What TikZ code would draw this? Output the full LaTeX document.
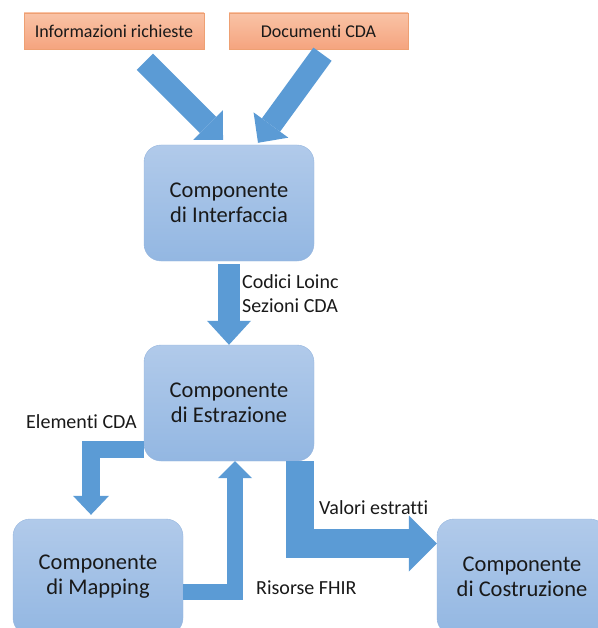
\documentclass[tikz,border=0pt]{standalone}
\usepackage{fontspec}
\setmainfont{Carlito}[Ligatures=CommonOff]
\usetikzlibrary{arrows.meta}
\definecolor{boxtop}{RGB}{177,202,234}
\definecolor{boxbot}{RGB}{147,183,226}
\definecolor{boxline}{RGB}{150,182,222}
\definecolor{srctop}{RGB}{249,195,166}
\definecolor{srcbot}{RGB}{245,164,127}
\definecolor{srcline}{RGB}{238,160,115}
\definecolor{arrowblue}{RGB}{91,155,213}
\definecolor{ink}{RGB}{25,25,25}
\begin{document}
\begin{tikzpicture}[x=1pt,y=1pt,
	blk/.style n args={3}{draw=arrowblue, line width=#1, line join=miter,
		-{Triangle[width=#2, length=#3, line width=0pt]}}]
	\tikzstyle{every node}+=[inner sep=0pt, text=ink]
	\tikzstyle{comp}=[draw=boxline, top color=boxtop, bottom color=boxbot, rounded corners=17pt, minimum width=170pt, minimum height=116pt, align=center, font=\fontsize{22.5}{25}\selectfont]
	\tikzstyle{src}=[draw=srcline, top color=srctop, bottom color=srcbot, minimum height=36pt, font=\fontsize{18}{22}\selectfont]
	\tikzstyle{lbl}=[align=left, font=\fontsize{20}{24}\selectfont]
	\useasboundingbox (0,0) rectangle (597,-628);
	% sorgenti
	\node [src, minimum width=180pt] (info) at (114,-31) {Informazioni richieste};
	\node [src, minimum width=179pt] (docs) at (318.5,-31) {Documenti CDA};
	% componenti
	\node [comp] (iface) at (229,-203) {Componente\\di Interfaccia};
	\node [comp] (estr) at (229,-403) {Componente\\di Estrazione};
	\node [comp] (map) at (98,-577) {Componente\\di Mapping};
	\node [comp] (costr) at (522,-577) {Componente\\di Costruzione};
	% frecce
	\draw [blk={23pt}{42pt}{21pt}, shorten <=43.5pt] (info.center) -- ([xshift=-6pt,yshift=5pt]iface.north);
	\draw [blk={22.5pt}{43pt}{22pt}] ([xshift=4pt,yshift=-5pt]docs.south) -- ([xshift=29pt,yshift=2pt]iface.north);
	\draw [blk={22pt}{44pt}{24pt}] ([yshift=-3pt]iface.south) -- (estr.north);
	\draw [blk={17.5pt}{36pt}{19pt}] ([yshift=-46.5pt]estr.west) -| ([xshift=-7pt,yshift=4pt]map.north);
	\draw [blk={16pt}{34pt}{17pt}] ([yshift=-15pt]map.east) -| ([xshift=6pt]estr.south);
	\draw [blk={28.5pt}{56pt}{28pt}] ([xshift=71pt]estr.south) |- ([yshift=33.5pt]costr.west);
	% etichette
	\node [lbl, anchor=base west] (lbCod) at (242,-312) {Codici Loinc\\Sezioni CDA};
	\node [lbl, anchor=base west] (lbElem) at (26,-428) {Elementi CDA};
	\node [lbl, anchor=base west] (lbVal) at (319,-514) {Valori estratti};
	\node [lbl, anchor=base west] (lbRis) at (256,-594) {Risorse FHIR};
\end{tikzpicture}
\end{document}
